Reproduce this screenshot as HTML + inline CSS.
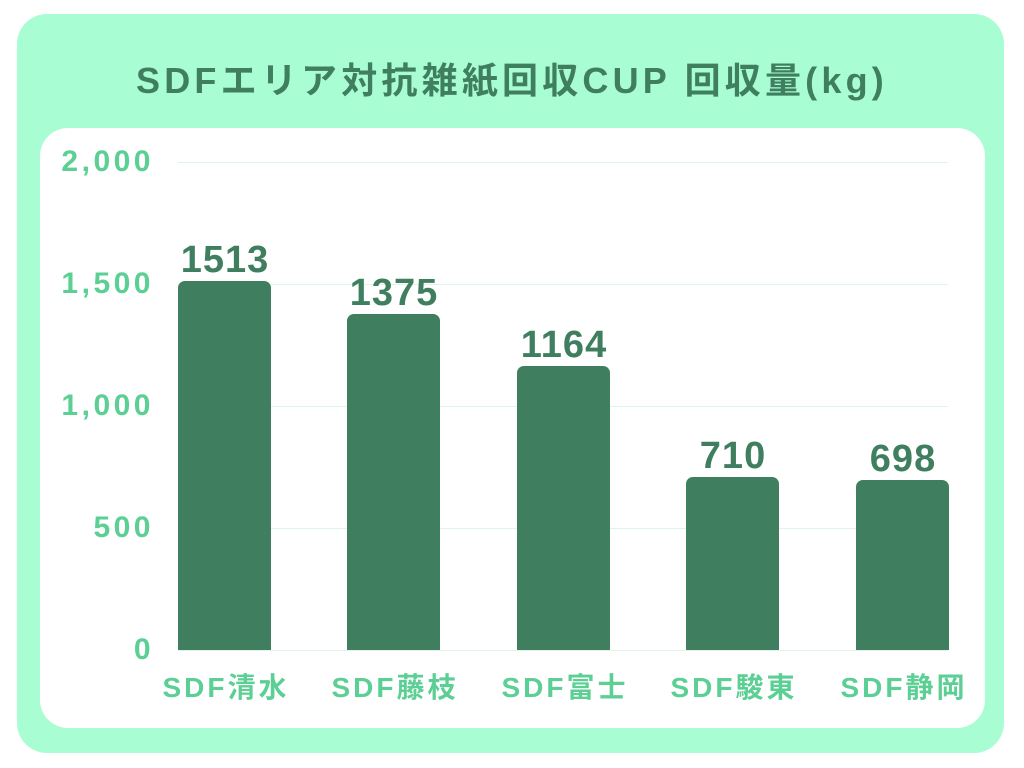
<!DOCTYPE html>
<html><head><meta charset="utf-8"><style>
body{margin:0;width:1024px;height:768px;background:#fff;position:relative;overflow:hidden;font-family:"Liberation Sans","Noto Sans CJK JP",sans-serif;}
.outer{position:absolute;left:17px;top:14px;width:987px;height:739px;background:#a8fdd3;border-radius:30px;}
.inner{position:absolute;left:40px;top:128px;width:945px;height:600px;background:#fff;border-radius:28px;}
.title{position:absolute;left:0;width:1024px;top:52px;text-align:center;font-size:36px;font-weight:bold;color:#3f7f5f;letter-spacing:4.2px;}
.grid{position:absolute;left:178px;width:770px;height:1px;background:#dff3ea;}
.yl{position:absolute;right:870px;font-size:30px;font-weight:bold;color:#5ccf94;line-height:30px;letter-spacing:3.5px;}
.bar{position:absolute;width:93px;background:#3f7f5f;border-radius:7px 7px 0 0;}
.vl{position:absolute;width:140px;text-align:center;font-size:38px;font-weight:bold;color:#3f7f5f;line-height:40px;letter-spacing:1px;}
.xl{position:absolute;width:180px;text-align:center;font-size:28px;font-weight:bold;color:#5ccf94;top:671px;line-height:34px;letter-spacing:3px;}
</style></head><body>
<div class="outer"></div>
<div class="inner"></div>
<div class="title">SDFエリア対抗雑紙回収CUP 回収量(kg)</div>
<div class="grid" style="top:162px"></div>
<div class="grid" style="top:284px"></div>
<div class="grid" style="top:406px"></div>
<div class="grid" style="top:528px"></div>
<div class="grid" style="top:650px"></div>
<div class="yl" style="top:147px">2,000</div>
<div class="yl" style="top:269px">1,500</div>
<div class="yl" style="top:391px">1,000</div>
<div class="yl" style="top:513px">500</div>
<div class="yl" style="top:635px">0</div>

<div class="bar" style="left:178px;top:281px;height:369px"></div>
<div class="bar" style="left:347px;top:314px;height:336px"></div>
<div class="bar" style="left:517px;top:366px;height:284px"></div>
<div class="bar" style="left:686px;top:477px;height:173px"></div>
<div class="bar" style="left:856px;top:480px;height:170px"></div>

<div class="vl" style="left:155px;top:240px">1513</div>
<div class="vl" style="left:324px;top:273px">1375</div>
<div class="vl" style="left:494px;top:325px">1164</div>
<div class="vl" style="left:663px;top:436px">710</div>
<div class="vl" style="left:833px;top:439px">698</div>

<div class="xl" style="left:136px">SDF清水</div>
<div class="xl" style="left:305px">SDF藤枝</div>
<div class="xl" style="left:475px">SDF富士</div>
<div class="xl" style="left:644px">SDF駿東</div>
<div class="xl" style="left:814px">SDF静岡</div>
</body></html>
